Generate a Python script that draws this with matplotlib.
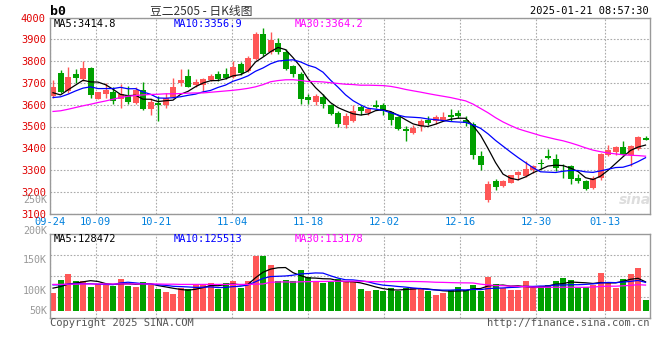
import numpy as np
import pandas as pd
import matplotlib
matplotlib.use('Agg')
import matplotlib.pyplot as plt

# ---- data (豆二2505) ----
opens = [3642, 3747, 3663, 3743, 3717, 3770, 3628, 3648, 3656, 3625,
         3640, 3610, 3666, 3582, 3610, 3598, 3636, 3698, 3732, 3691,
         3691, 3712, 3740, 3743, 3727, 3785, 3755, 3808, 3926, 3843,
         3885, 3843, 3778, 3743, 3637, 3614, 3637, 3598, 3564, 3508,
         3527, 3588, 3562, 3600, 3600, 3566, 3542, 3490, 3470, 3501,
         3531, 3524, 3531, 3554, 3562, 3531, 3511, 3363, 3162, 3249,
         3225, 3243, 3276, 3271, 3301, 3332, 3363, 3350, 3298, 3320,
         3263, 3248, 3218, 3263, 3370, 3385, 3404, 3370, 3396, 3447]
highs = [3715, 3758, 3775, 3763, 3801, 3775, 3659, 3701, 3679, 3694,
         3686, 3679, 3704, 3633, 3640, 3654, 3724, 3763, 3763, 3717,
         3724, 3743, 3755, 3767, 3801, 3796, 3824, 3935, 3951, 3935,
         3908, 3854, 3782, 3750, 3651, 3651, 3648, 3605, 3572, 3560,
         3600, 3600, 3588, 3623, 3608, 3573, 3547, 3501, 3508, 3534,
         3550, 3554, 3568, 3580, 3577, 3547, 3519, 3386, 3249, 3261,
         3256, 3279, 3294, 3340, 3324, 3350, 3396, 3375, 3329, 3324,
         3282, 3256, 3271, 3378, 3416, 3411, 3434, 3416, 3457, 3457]
lows = [3632, 3653, 3653, 3701, 3709, 3630, 3624, 3630, 3605, 3584,
        3605, 3605, 3575, 3552, 3524, 3587, 3633, 3686, 3679, 3679,
        3659, 3709, 3709, 3717, 3724, 3737, 3752, 3805, 3824, 3834,
        3834, 3758, 3729, 3605, 3605, 3599, 3584, 3553, 3498, 3495,
        3521, 3551, 3551, 3585, 3554, 3508, 3485, 3432, 3467, 3478,
        3508, 3513, 3524, 3524, 3539, 3501, 3353, 3299, 3153, 3211,
        3222, 3240, 3253, 3268, 3286, 3305, 3350, 3298, 3263, 3237,
        3240, 3207, 3214, 3253, 3366, 3370, 3367, 3321, 3393, 3436]
closes = [3680, 3660, 3729, 3721, 3770, 3643, 3656, 3669, 3617, 3651,
          3614, 3666, 3579, 3614, 3599, 3633, 3679, 3712, 3683, 3706,
          3717, 3732, 3717, 3721, 3775, 3744, 3816, 3923, 3834, 3897,
          3843, 3766, 3740, 3625, 3621, 3640, 3602, 3559, 3511, 3547,
          3573, 3573, 3582, 3588, 3569, 3531, 3490, 3478, 3493, 3524,
          3516, 3542, 3542, 3542, 3547, 3516, 3371, 3325, 3238, 3223,
          3251, 3276, 3289, 3305, 3317, 3327, 3355, 3309, 3295, 3260,
          3248, 3214, 3266, 3373, 3393, 3404, 3370, 3411, 3450, 3439]
volumes = [83, 141, 167, 136, 136, 110, 123, 119, 116, 145,
           116, 110, 132, 119, 101, 87, 79, 105, 101, 123,
           123, 127, 101, 127, 136, 105, 136, 252, 252, 207,
           136, 141, 136, 185, 154, 132, 127, 132, 145, 132,
           130, 101, 89, 96, 93, 105, 93, 104, 105, 105,
           93, 74, 83, 96, 110, 96, 120, 89, 154, 123,
           104, 96, 96, 136, 104, 114, 119, 136, 150, 141,
           104, 111, 120, 172, 132, 105, 145, 167, 194, 52]  # thousand lots

# averages before the window starts
ma5_head = [3655, 3645, 3668, 3690]
ma10_head = [3633, 3636, 3648, 3663, 3676, 3682, 3674, 3674, 3674]
ma30_head = [3569, 3572, 3579, 3587, 3595, 3602, 3610, 3617, 3625, 3633,
             3639, 3642, 3645, 3647, 3648, 3650, 3650, 3651, 3653, 3654,
             3654, 3657, 3660, 3663, 3666, 3670, 3675, 3682, 3692]
vma5_head = [104, 111, 122, 127]
vma10_head = [119, 119, 122, 124, 124, 124, 122, 121, 120]
vma30_head = [121, 121, 122, 122, 123, 123, 123, 123, 123, 123,
              123, 123, 123, 123, 123, 122, 122, 121, 121, 121,
              121, 121, 121, 121, 121, 121, 121, 122, 123]

tick_idx = [0, 6, 14, 24, 34, 44, 54, 64, 73]
tick_lab = ['09-24', '10-09', '10-21', '11-04', '11-18', '12-02', '12-16', '12-30', '01-13']
price_ticks = list(range(3100, 4001, 100))
vol_labels = ['250K', '200K', '150K', '100K', '50K']
vol_label_y = [200, 231, 260, 291, 311]


def ma(vals, n, head):
    s = pd.Series(vals, dtype=float).rolling(n).mean().to_numpy()
    s[:len(head)] = head
    return s


RED = '#ff5757'
GREEN = '#00a000'
GRID = dict(color='#aaaaaa', lw=0.8, ls=(0, (1.5, 1.5)))
MONO = 'DejaVu Sans Mono'

W, H = 660, 360
fig = plt.figure(figsize=(6.6, 3.6), dpi=100)


def px(x, y):
    return x / W, 1 - y / H


def box(l, t, r, b):
    return [l / W, 1 - b / H, (r - l) / W, (b - t) / H]


ax = fig.add_axes(box(50, 17.5, 649.5, 213.7))
axv = fig.add_axes(box(50, 234.3, 649.5, 318.3))

x = np.arange(len(closes))
o = np.array(opens)
c = np.array(closes)
up = c >= o
cols = np.where(up, RED, GREEN)

# candles
ax.vlines(x, lows, highs, colors=cols, lw=1)
ax.bar(x, np.maximum(np.abs(c - o), 3), bottom=np.minimum(o, c), width=0.8,
       color=cols, lw=0)
ax.plot(x, ma(closes, 5, ma5_head), color='black', lw=0.9)
ax.plot(x, ma(closes, 10, ma10_head), color='#0000ff', lw=0.9)
ax.plot(x, ma(closes, 30, ma30_head), color='#ff00ff', lw=0.9)

# volume
axv.bar(x, volumes, width=0.8, color=cols, lw=0)
axv.plot(x, ma(volumes, 5, vma5_head), color='black', lw=0.9)
axv.plot(x, ma(volumes, 10, vma10_head), color='#0000ff', lw=0.9)
axv.plot(x, ma(volumes, 30, vma30_head), color='#ff00ff', lw=0.9)

# sina's grid is spaced a touch wider than the candles
grid_x = [(7.6 * i - 3) / 7.5 for i in tick_idx]
xlim = (-0.4, 79.53)

for a in (ax, axv):
    a.set_xlim(*xlim)
    a.set_xticks(grid_x)
    a.grid(True, **GRID)
    for s in a.spines.values():
        s.set_color('#999999')
        s.set_linewidth(1)
    a.tick_params(length=0)
    a.set_axisbelow(True)

ax.set_ylim(3100, 4000)
ax.set_yticks(price_ticks)
ax.set_yticklabels([str(p) for p in price_ticks], color='#e00000',
                   fontfamily=MONO, fontsize=7.5)
ax.tick_params(axis='y', pad=3)
ax.set_xticklabels(tick_lab, color='#0080dd', fontfamily=MONO, fontsize=7.5)
ax.tick_params(axis='x', pad=2.5)

vlo, vhi = -33, 348.6
axv.set_ylim(vlo, vhi)
axv.set_yticks(np.linspace(vlo, vhi, 5)[1:4])
axv.set_yticklabels([])
axv.set_xticklabels([])

for lab, yy in zip(vol_labels, vol_label_y):
    fig.text(*px(47, yy), lab, ha='right', va='center', color='#999999',
             fontfamily=MONO, fontsize=7.2)

# header texts
fig.text(*px(50, 11.5), 'b0', ha='left', va='center', fontfamily=MONO,
         fontweight='bold', fontsize=9.5, color='black')
fig.text(*px(201, 11.5), '豆二2505 - 日K线图', ha='center', va='center',
         fontfamily=['Noto Sans CJK SC', 'DejaVu Sans'], fontsize=8.5,
         color='#333333')
fig.text(*px(649, 11.5), '2025-01-21 08:57:30', ha='right', va='center',
         fontfamily=MONO, fontsize=7.5, color='black')

for xx, txt, col in [(54, 'MA5:3414.8', 'black'), (174, 'MA10:3356.9', '#0000ff'),
                     (295, 'MA30:3364.2', '#ff00ff')]:
    fig.text(*px(xx, 23.7), txt, ha='left', va='center', fontfamily=MONO,
             fontsize=7.5, color=col)
for xx, txt, col in [(54, 'MA5:128472', 'black'), (174, 'MA10:125513', '#0000ff'),
                     (295, 'MA30:113178', '#ff00ff')]:
    fig.text(*px(xx, 239), txt, ha='left', va='center', fontfamily=MONO,
             fontsize=7.5, color=col)

fig.text(*px(50, 323.5), 'Copyright 2025 SINA.COM', ha='left', va='center',
         fontfamily=MONO, fontsize=7.5, color='#555555')
fig.text(*px(649, 323.5), 'http://finance.sina.com.cn', ha='right', va='center',
         fontfamily=MONO, fontsize=7.5, color='#555555')
fig.text(*px(635, 200), 'sina', ha='center', va='center', fontsize=10,
         fontweight='bold', style='italic', color='#dddddd')

fig.savefig('out.png', dpi=100)
